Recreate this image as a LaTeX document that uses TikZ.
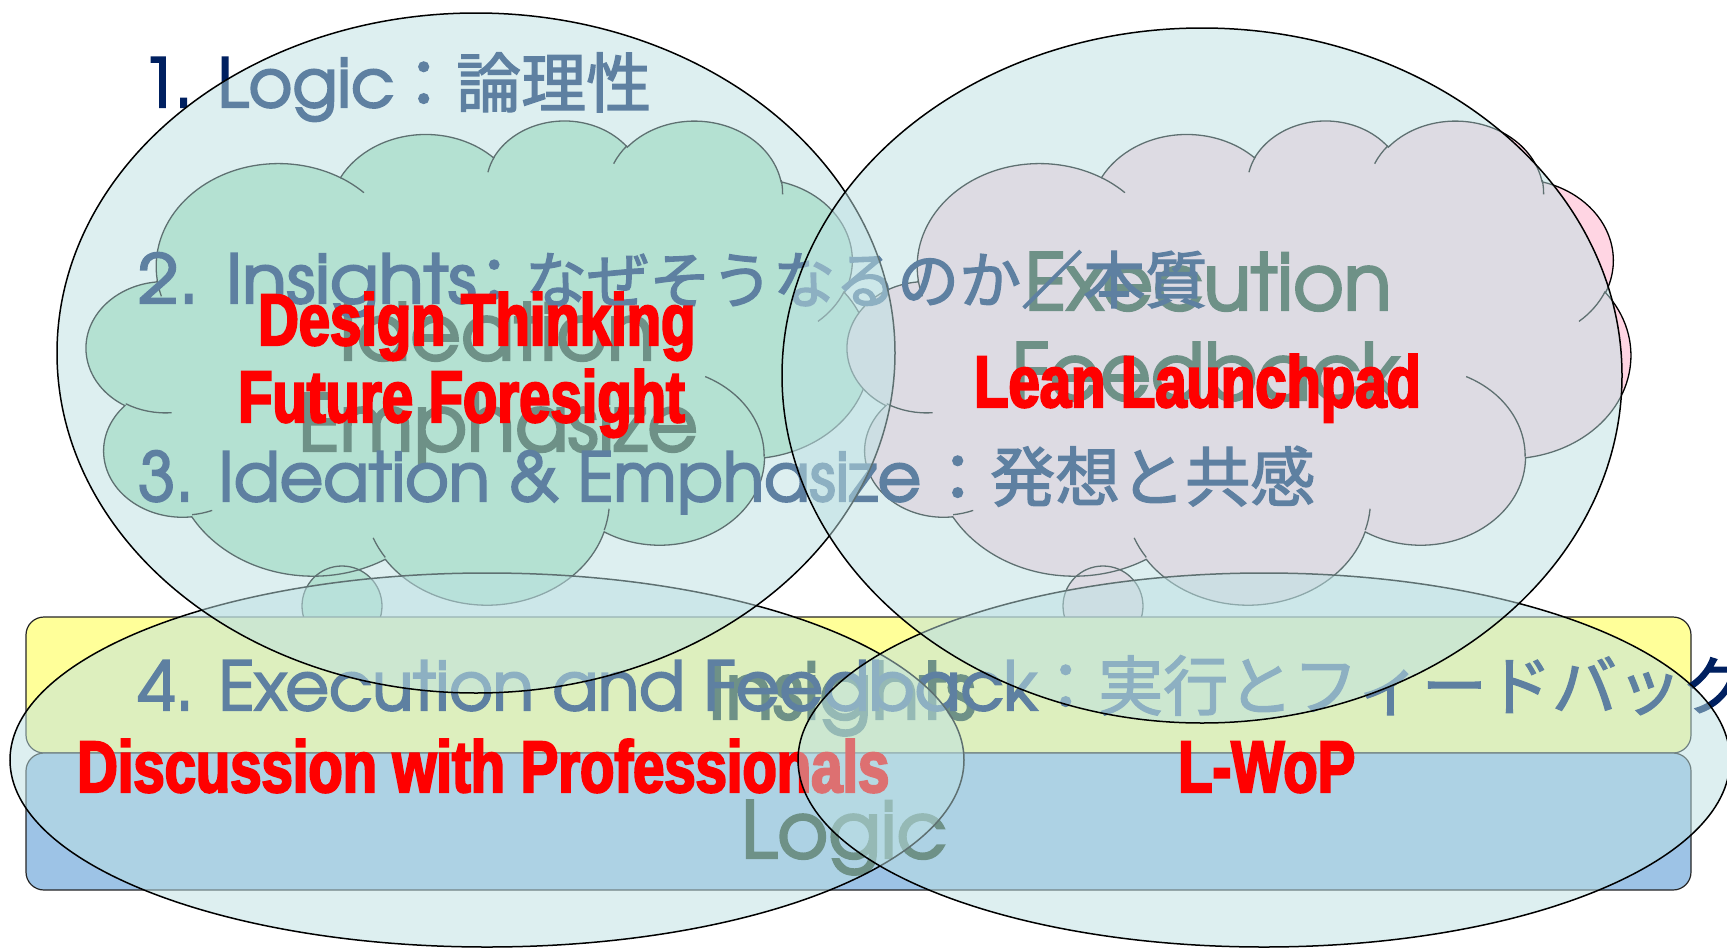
\documentclass[tikz,border=0pt]{standalone}
\usepackage{fontspec}
\usepackage{graphicx}
\newfontfamily\geo[FakeBold=3]{TeX Gyre Adventor}
\newfontfamily\cjk[FakeBold=2]{Noto Sans CJK JP}
\newfontfamily\redf[FakeStretch=0.77, FakeBold=3]{Liberation Sans}
\definecolor{navyc}{RGB}{0,32,96}
\definecolor{labelc}{RGB}{31,65,43}
\definecolor{ellc}{RGB}{189,225,227}
\definecolor{mintc}{RGB}{171,225,193}
\definecolor{pinkc}{RGB}{255,213,227}
\definecolor{yelc}{RGB}{255,255,153}
\definecolor{bluc}{RGB}{157,195,230}
\definecolor{redc}{RGB}{255,0,0}
% OOXML-style arc: wR hR stAng swAng (degrees, visual angles)
\newcommand\ooarc[4]{%
  \pgfextra{%
    \pgfmathparse{atan2((#1)*sin(#3),(#2)*cos(#3))}\xdef\ooT{\pgfmathresult}%
    \pgfmathparse{atan2((#1)*sin((#3)+(#4)),(#2)*cos((#3)+(#4)))}\xdef\ooU{\pgfmathresult}%
    \pgfmathparse{mod(\ooU-\ooT+720,360)}\xdef\ooD{\pgfmathresult}%
  }%
  arc[start angle=\ooT, delta angle=\ooD, x radius=#1, y radius=#2]%
}
\newcommand\cloudpath{%
  (3.9,14.37)
  \ooarc{6.753}{9.19}{-190.4875}{123.7805}
  \ooarc{5.333}{7.267}{-144.1024}{89.9452}
  \ooarc{4.365}{5.945}{-145.8079}{99.7230}
  \ooarc{4.857}{6.595}{-130.9861}{117.2417}
  \ooarc{5.333}{7.273}{-78.7089}{109.0269}
  \ooarc{6.775}{9.22}{-46.2673}{130.2690}
  \ooarc{5.785}{7.867}{0.6250}{114.0333}
  \ooarc{6.752}{9.215}{22.4516}{115.1726}
  \ooarc{7.72}{10.543}{66.2426}{75.7110}
  \ooarc{4.36}{5.918}{-274.9421}{146.7356}
  \ooarc{4.345}{5.945}{-246.8285}{152.5189}
  -- cycle
}
\newcommand\cloudinner{%
  (4.693,26.177) \ooarc{4.345}{5.945}{86.742}{26.430}
  (6.928,34.899) \ooarc{4.36}{5.918}{73.610}{11.447}
  (16.478,39.09) \ooarc{6.752}{9.215}{137.624}{14.081}
  (28.827,34.751) \ooarc{6.752}{9.215}{6.453}{15.998}
  (34.129,22.954) \ooarc{5.785}{7.867}{-70.292}{70.917}
  (41.798,15.354) \ooarc{5.333}{7.273}{30.318}{27.752}
  (38.324,5.426) \ooarc{4.857}{6.595}{-13.744}{14.860}
  (29.078,3.952) \ooarc{4.857}{6.595}{-149.181}{18.196}
  (22.141,4.72) \ooarc{4.365}{5.945}{-163.494}{17.687}
  (14.0,5.192) \ooarc{6.753}{9.19}{-66.707}{12.319}
  (4.127,15.789) \ooarc{6.753}{9.19}{157.654}{11.858}
}
\tikzset{
  numtxt/.style={anchor=base west, inner sep=0pt, text=navyc, font=\geo\fontsize{67}{70}\selectfont},
  numcjk/.style={anchor=base west, inner sep=0pt, text=navyc, font=\cjk\fontsize{65}{70}\selectfont},
  lbl/.style={anchor=base, inner sep=0pt, text=labelc, font=\geo\fontsize{78}{80}\selectfont},
  redtxt/.style={anchor=base west, inner sep=0pt, text=redc, font=\redf\bfseries\fontsize{73}{76}\selectfont},
  bubble/.style={fill=ellc, fill opacity=0.5, draw=black, line width=1.5pt},
  cloudline/.style={draw=black, line width=1.3pt},
  band/.style={draw=black!85, line width=1.2pt, rounded corners=18pt},
}
\begin{document}
\begin{tikzpicture}[x=1pt,y=-1pt]
\useasboundingbox (0,0) rectangle (1727,948);
\clip (0,0) rectangle (1727,948);
\fill[white] (0,0) rectangle (1727,948);
% green cloud
\begin{scope}[xshift=86.6pt, yshift=-119.4pt, x=18.125pt, y=-11.204pt]
  \fill[mintc] \cloudpath;
\end{scope}
\fill[mintc] (342,606) circle[radius=40];
\begin{scope}[xshift=86.6pt, yshift=-119.4pt, x=18.125pt, y=-11.204pt]
  \path[cloudline] \cloudpath;
  \path[cloudline] \cloudinner;
\end{scope}
\draw[cloudline] (342,606) circle[radius=40];
% pink cloud
\begin{scope}[xshift=847.6pt, yshift=-119.4pt, x=18.125pt, y=-11.204pt]
  \fill[pinkc] \cloudpath;
\end{scope}
\fill[pinkc] (1103,606) circle[radius=40];
\begin{scope}[xshift=847.6pt, yshift=-119.4pt, x=18.125pt, y=-11.204pt]
  \path[cloudline] \cloudpath;
  \path[cloudline] \cloudinner;
\end{scope}
\draw[cloudline] (1103,606) circle[radius=40];
% bands
\draw[band, fill=yelc] (26,617) rectangle (1691,753);
\draw[band, fill=bluc] (26,753) rectangle (1691,890);
% grey labels
\node[lbl] (lid) at (497,360) {Ideation};
\node[lbl] (lem) at (498,451) {Emphasize};
\node[lbl] (lex) at (1208,310) {Execution};
\node[lbl] (lfe) at (1206,400) {Feedback};
\node[lbl] (lin) at (842,719) {Insights};
\node[lbl] (llo) at (844,858) {Logic};
% numbered lines
\node[numtxt] (n1) at (141,107) {1. Logic};
\node[numcjk] (n1j) at (391,107) {：論理性};
\node[numtxt] (n2) at (138,303) {\scalebox{1.09}[1]{2. Insights}};
\node[numcjk, font=\cjk\fontsize{62}{66}\selectfont] (n2j) at (463,303) {：なぜそうなるのか／本質};
\node[numtxt] (n3) at (138,501) {3. Ideation \& Emphasize};
\node[numcjk] (n3j) at (925,501) {：発想と共感};
\node[numtxt] (n4) at (138,710) {4. Execution and Feedback};
\node[numcjk] (n4j) at (1033,710) {：実行とフィードバック};
% ellipses and red texts
\path[bubble] (487,760) ellipse[x radius=477pt, y radius=187pt];
\node[redtxt] (r4) at (77,792) {Discussion with Professionals};
\path[bubble] (1264,760) ellipse[x radius=466pt, y radius=187pt];
\path[bubble] (476,353) ellipse[x radius=419pt, y radius=340pt];
\path[bubble] (1202,375.5) ellipse[x radius=420pt, y radius=347.5pt];
\node[redtxt] (r1) at (258,345) {Design Thinking};
\node[redtxt] (r2) at (238,422) {Future Foresight};
\node[redtxt] (r3) at (974,407) {Lean Launchpad};
\node[redtxt] (r5) at (1178,792) {L-WoP};
\end{tikzpicture}
\end{document}
